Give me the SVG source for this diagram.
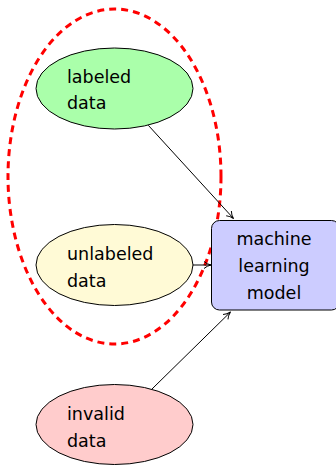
<svg xmlns="http://www.w3.org/2000/svg" width="336" height="465" viewBox="0 0 336 465">
  <style>
    .node { stroke: #000; stroke-width: 1; }
    .lbl { font-family: "DejaVu Sans", "Liberation Sans", sans-serif; font-size: 17.5px; fill: #000; }
    .mid { text-anchor: middle; }
    .edge { stroke: #000; stroke-width: 1; fill: none; marker-end: url(#tip); }
  </style>
  <defs>
    <marker id="tip" viewBox="0 0 10 10" refX="9" refY="5" markerWidth="10" markerHeight="10" markerUnits="userSpaceOnUse" orient="auto">
      <path d="M2,1.5 Q5,4.2 9,5 Q5,5.8 2,8.5" fill="none" stroke="#000" stroke-width="1"/>
    </marker>
  </defs>

  <!-- grouping of the data used for training -->
  <ellipse id="training-set" cx="114.5" cy="176.5" rx="106.5" ry="167.5" fill="none" stroke="#ff0000" stroke-width="3" stroke-dasharray="7,5"/>

  <g id="labeled">
    <ellipse class="node" cx="114.5" cy="88.5" rx="78.5" ry="40.5" fill="#aaffaa"/>
    <text class="lbl" x="67" y="82.5">labeled</text>
    <text class="lbl" x="67" y="109">data</text>
  </g>

  <g id="unlabeled">
    <ellipse class="node" cx="114.5" cy="265" rx="78.5" ry="40.5" fill="#fffad6"/>
    <text class="lbl" x="67" y="260">unlabeled</text>
    <text class="lbl" x="67" y="286.5">data</text>
  </g>

  <g id="invalid">
    <ellipse class="node" cx="114.5" cy="424.5" rx="78.5" ry="40" fill="#ffcccc"/>
    <text class="lbl" x="67" y="420">invalid</text>
    <text class="lbl" x="67" y="446.5">data</text>
  </g>

  <g id="model">
    <rect class="node" x="211.5" y="220.5" width="128" height="89.5" rx="8" fill="#ccccff"/>
    <text class="lbl mid" x="274" y="245">machine</text>
    <text class="lbl mid" x="274" y="271.5">learning</text>
    <text class="lbl mid" x="274" y="298.5">model</text>
  </g>

  <g id="connectors">
    <path class="edge" d="M148.3,125.3 L233.5,218.5"/>
    <path class="edge" d="M193,265 L211,265"/>
    <path class="edge" d="M151.7,389.3 L230.5,312"/>
  </g>
</svg>
